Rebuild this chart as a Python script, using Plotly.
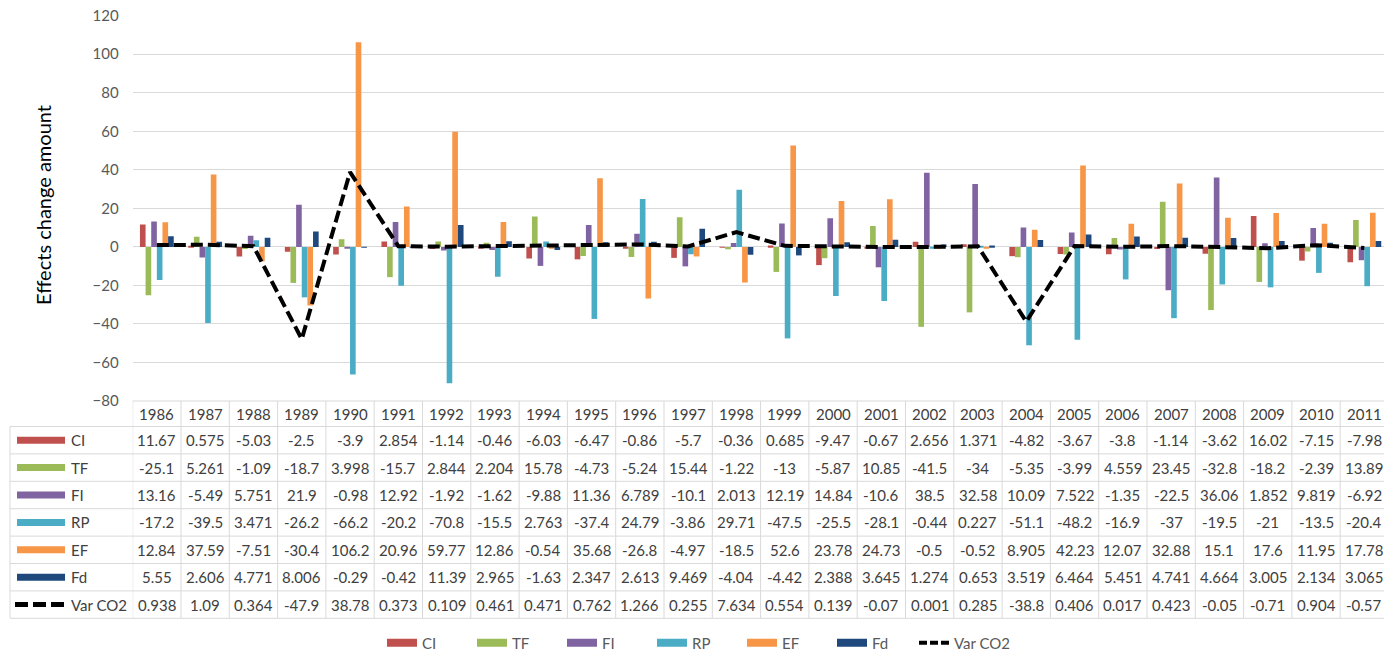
import plotly.graph_objects as go

years = [str(y) for y in range(1986, 2012)]
CI = [11.67, 0.575, -5.03, -2.5, -3.9, 2.854, -1.14, -0.46, -6.03, -6.47, -0.86, -5.7, -0.36, 0.685, -9.47, -0.67, 2.656, 1.371, -4.82, -3.67, -3.8, -1.14, -3.62, 16.02, -7.15, -7.98]
TF = [-25.1, 5.261, -1.09, -18.7, 3.998, -15.7, 2.844, 2.204, 15.78, -4.73, -5.24, 15.44, -1.22, -13, -5.87, 10.85, -41.5, -34, -5.35, -3.99, 4.559, 23.45, -32.8, -18.2, -2.39, 13.89]
FI = [13.16, -5.49, 5.751, 21.9, -0.98, 12.92, -1.92, -1.62, -9.88, 11.36, 6.789, -10.1, 2.013, 12.19, 14.84, -10.6, 38.5, 32.58, 10.09, 7.522, -1.35, -22.5, 36.06, 1.852, 9.819, -6.92]
RP = [-17.2, -39.5, 3.471, -26.2, -66.2, -20.2, -70.8, -15.5, 2.763, -37.4, 24.79, -3.86, 29.71, -47.5, -25.5, -28.1, -0.44, 0.227, -51.1, -48.2, -16.9, -37, -19.5, -21, -13.5, -20.4]
EF = [12.84, 37.59, -7.51, -30.4, 106.2, 20.96, 59.77, 12.86, -0.54, 35.68, -26.8, -4.97, -18.5, 52.6, 23.78, 24.73, -0.5, -0.52, 8.905, 42.23, 12.07, 32.88, 15.1, 17.6, 11.95, 17.78]
Fd = [5.55, 2.606, 4.771, 8.006, -0.29, -0.42, 11.39, 2.965, -1.63, 2.347, 2.613, 9.469, -4.04, -4.42, 2.388, 3.645, 1.274, 0.653, 3.519, 6.464, 5.451, 4.741, 4.664, 3.005, 2.134, 3.065]
VarCO2 = [0.938, 1.09, 0.364, -47.9, 38.78, 0.373, 0.109, 0.461, 0.471, 0.762, 1.266, 0.255, 7.634, 0.554, 0.139, -0.07, 0.001, 0.285, -38.8, 0.406, 0.017, 0.423, -0.05, -0.71, 0.904, -0.57]

series_names = ["CI", "TF", "FI", "RP", "EF", "Fd"]
series_vals = [CI, TF, FI, RP, EF, Fd]
colors = ["#C0504D", "#9BBB59", "#8064A2", "#4BACC6", "#F79646", "#1F497D"]
line_name = "Var CO2"

FONT = "Lato"
TXT = "#404040"
GRID = "#D9D9D9"

# page offset caused by the default 8px body margin
OFF = 8
FW, FH = 1384, 654


def px(P):
    return (P - OFF) / FW


def py(P):
    return 1 - (P - OFF) / FH


plot_l, plot_r = 132.7, 1388.5
plot_t, plot_b = 15.7, 401.0
tab_l = 10
header_b = 426.5
row_h = 27.4
row_edges = [header_b + k * row_h for k in range(8)]
row_centers = [header_b + (k + 0.5) * row_h for k in range(7)]
header_c = (plot_b + header_b) / 2 + 0.5

leg1_x = 382
leg2_x = 914

fig = go.Figure()
for name, vals, c in zip(series_names, series_vals, colors):
    fig.add_trace(go.Bar(x=years, y=vals, name=name, marker_color=c, marker_line_width=0,
                         legendgroup=name, showlegend=False))
fig.add_trace(go.Scatter(x=years, y=VarCO2, name=line_name, mode="lines",
                         line=dict(color="black", width=4, dash="12px,5px"),
                         legendgroup=line_name, showlegend=False))
# legend entries (wide swatches like the original)
for name, c in zip(series_names, colors):
    fig.add_trace(go.Scatter(x=[None], y=[None], mode="lines", name=name, legendgroup=name,
                             line=dict(color=c, width=8), legend="legend"))
fig.add_trace(go.Scatter(x=[None], y=[None], mode="lines", name=line_name, legendgroup=line_name,
                         line=dict(color="black", width=4, dash="8px,3px"), legend="legend2"))


def fmt(v):
    return "{:g}".format(v)


shapes = []
annotations = []

# table grid: horizontal lines
shapes.append(dict(type="line", xref="paper", yref="paper", x0=px(plot_l), x1=px(plot_r),
                   y0=py(plot_b), y1=py(plot_b), line=dict(color=GRID, width=1)))
for e in row_edges:
    shapes.append(dict(type="line", xref="paper", yref="paper", x0=px(tab_l), x1=px(plot_r),
                       y0=py(e), y1=py(e), line=dict(color=GRID, width=1)))
# vertical lines
shapes.append(dict(type="line", xref="paper", yref="paper", x0=px(tab_l), x1=px(tab_l),
                   y0=py(header_b), y1=py(row_edges[-1]), line=dict(color=GRID, width=1)))
for i in range(len(years) + 1):
    shapes.append(dict(type="line", xref="x", yref="paper", x0=i - 0.5, x1=i - 0.5,
                       y0=py(plot_b), y1=py(row_edges[-1]), line=dict(color=GRID, width=1)))

# header years
for i, yr in enumerate(years):
    annotations.append(dict(x=i, xref="x", y=py(header_c), yref="paper", text=yr, showarrow=False,
                            font=dict(family=FONT, size=15, color=TXT), xanchor="center", yanchor="middle"))

# rows
all_rows = list(zip(series_names, series_vals, colors)) + [(line_name, VarCO2, "black")]
for r, (name, vals, c) in enumerate(all_rows):
    yc = row_centers[r]
    if name == line_name:
        shapes.append(dict(type="line", xref="paper", yref="paper", x0=px(15), x1=px(65),
                           y0=py(yc), y1=py(yc), line=dict(color="black", width=5, dash="13px,5px")))
    else:
        shapes.append(dict(type="rect", xref="paper", yref="paper", x0=px(17), x1=px(65),
                           y0=py(yc - 3.5), y1=py(yc + 3.5), fillcolor=c, line=dict(width=0)))
    annotations.append(dict(x=px(69), xref="paper", y=py(yc), yref="paper", text=name, showarrow=False,
                            font=dict(family=FONT, size=15, color=TXT), xanchor="left", yanchor="middle"))
    for i in range(len(years)):
        annotations.append(dict(x=i, xref="x", y=py(yc), yref="paper", text=fmt(vals[i]), showarrow=False,
                                font=dict(family=FONT, size=15, color=TXT), xanchor="center", yanchor="middle"))

# y axis title
annotations.append(dict(x=px(43), xref="paper", y=py(205), yref="paper", text="Effects change amount",
                        textangle=-90, showarrow=False, font=dict(family=FONT, size=20, color="#000000"),
                        xanchor="center", yanchor="middle"))

leg_font = dict(family=FONT, size=15, color="#595959")
fig.update_layout(
    width=FW, height=FH,
    margin=dict(l=0, r=0, t=0, b=0, autoexpand=False),
    paper_bgcolor="white", plot_bgcolor="white",
    barmode="group", bargap=0.3, bargroupgap=0,
    font=dict(family=FONT, color="#595959"),
    xaxis=dict(domain=[px(plot_l), px(plot_r)], showticklabels=False, showgrid=False,
               zeroline=False, showline=False, range=[-0.5, len(years) - 0.5], type="category",
               automargin=False),
    yaxis=dict(domain=[py(plot_b), py(plot_t)], range=[-80, 120], dtick=20,
               showgrid=True, gridcolor=GRID, gridwidth=1, zeroline=False,
               tickfont=dict(family=FONT, size=15, color="#595959"), ticks="",
               ticklabelstandoff=13, ticklabeloverflow="allow", automargin=False),
    legend=dict(orientation="h", x=px(leg1_x), xanchor="left", y=py(643), yanchor="middle",
                font=leg_font, itemwidth=30, entrywidth=45, entrywidthmode="pixels",
                bgcolor="rgba(0,0,0,0)"),
    legend2=dict(orientation="h", x=px(leg2_x), xanchor="left", y=py(643), yanchor="middle",
                 font=leg_font, itemwidth=30, bgcolor="rgba(0,0,0,0)"),
    showlegend=True,
    shapes=shapes,
    annotations=annotations,
)

fig.write_html("out.html")
